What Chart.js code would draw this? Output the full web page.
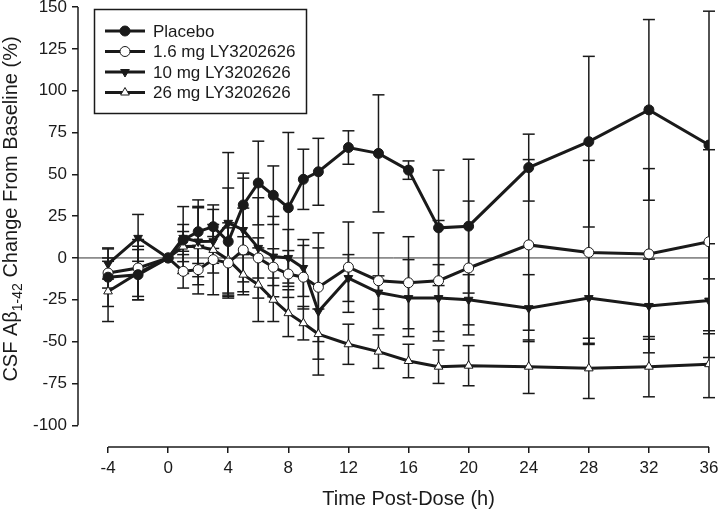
<!DOCTYPE html>
<html>
<head>
<meta charset="utf-8">
<script src="https://cdn.jsdelivr.net/npm/chart.js@4.4.1/dist/chart.umd.min.js"></script>
<style>
  html, body { margin: 0; padding: 0; background: #fff; }
  #wrap { width: 718px; height: 513px; position: relative; }
</style>
</head>
<body>
<div id="wrap"><canvas id="chart"></canvas></div>
<script>
// hours relative to dose
const times = [-4, -2, 0, 1, 2, 3, 4, 5, 6, 7, 8, 9, 10, 12, 14, 16, 18, 20, 24, 28, 32, 36];
const xTicks = [-4, 0, 4, 8, 12, 16, 20, 24, 28, 32, 36];
const yTicks = [-100, -75, -50, -25, 0, 25, 50, 75, 100, 125, 150];

// mean % change and SD per group
const placebo   = [-11.5, -10, 0, 10.7, 15.7, 18.7, 9.8, 31.7, 44.8, 37.5, 30, 47, 51.5, 66, 62.5, 52.5, 18, 19, 54, 69.5, 88.5, 67.5];
const placeboSd = [17.5, 15, 0, 20, 19, 13, 32, 19, 25, 17.5, 45, 18, 20, 10, 35, 5.5, 34.5, 40, 20, 51, 54, 80];
const dose16    = [-9, -6, 0, -8, -7, -1, -3, 4.8, 0, -5.5, -9.6, -11.5, -17.5, -5.5, -13.6, -14.8, -13.6, -6, 7.8, 3.3, 2.4, 9.7];
const dose16Sd  = [9, 17, 0, 10, 14.5, 21, 21, 25, 12, 11, 14, 19, 32.5, 27, 28.6, 27.5, 36, 40, 51, 55, 51, 55];
const dose10    = [-3.6, 12, 0, 12, 9.8, 10, 21, 16.7, 6, 0.8, 0, -6, -32, -12, -20.7, -24, -24, -25, -30, -24, -28.7, -25.5];
const dose10Sd  = [9, 14, 0, 8, 21, 19, 42, 31, 30, 24, 17, 17, 38, 14, 10, 23, 20, 15, 20, 27, 28, 34];
const dose26    = [-20, -9, 0, 6.8, 7, 4.8, -1, -10, -16, -25, -33, -39, -45.5, -51.6, -56, -61.6, -65, -64.4, -65, -66, -65, -63.5];
const dose26Sd  = [18, 16, 0, 9, 23, 8, 22, 12, 22, 13, 14, 10, 15, 12, 10, 10, 10, 12, 16, 18, 18, 20];

const INK = '#1a1a1a';
const FONT = '"Liberation Sans", Arial, Helvetica, sans-serif';

const series = [
  { label: 'Placebo',          data: placebo, sd: placeboSd, pointStyle: 'circle',   fill: INK,    rotation: 0 },
  { label: '1.6 mg LY3202626', data: dose16,  sd: dose16Sd,  pointStyle: 'circle',   fill: '#fff', rotation: 0 },
  { label: '10 mg LY3202626',  data: dose10,  sd: dose10Sd,  pointStyle: 'triangle', fill: INK,    rotation: 180 },
  { label: '26 mg LY3202626',  data: dose26,  sd: dose26Sd,  pointStyle: 'triangle', fill: '#fff', rotation: 0 },
];

function seg(ctx, x1, y1, x2, y2) {
  ctx.beginPath();
  ctx.moveTo(x1, y1);
  ctx.lineTo(x2, y2);
  ctx.stroke();
}

// ─── Extras: zero line, error bars, offset axes, legend, titles ─────────────

const extras = {
  id: 'extras',
  beforeDatasetsDraw(chart) {
    const { ctx, chartArea, scales: { x, y } } = chart;
    ctx.save();
    ctx.strokeStyle = '#333';
    ctx.lineWidth = 1;
    const y0 = y.getPixelForValue(0);
    seg(ctx, chartArea.left, y0, chartArea.right, y0);

    ctx.strokeStyle = INK;
    ctx.lineWidth = 1.5;
    series.forEach(s => s.sd.forEach((sd, i) => {
      if (!sd) return;
      const px = x.getPixelForValue(times[i]);
      const top = y.getPixelForValue(s.data[i] + sd);
      const bot = y.getPixelForValue(s.data[i] - sd);
      seg(ctx, px, top, px, bot);
      seg(ctx, px - 6, top, px + 6, top);
      seg(ctx, px - 6, bot, px + 6, bot);
    }));
    ctx.restore();
  },
  afterDraw(chart) {
    const { ctx, chartArea, scales: { x, y } } = chart;
    ctx.save();
    ctx.strokeStyle = INK;
    ctx.lineWidth = 1.5;
    // y axis stops at -100, x axis starts at -4
    seg(ctx, chartArea.left, y.getPixelForValue(150), chartArea.left, y.getPixelForValue(-100));
    seg(ctx, x.getPixelForValue(-4), chartArea.bottom, x.getPixelForValue(36), chartArea.bottom);

    // legend
    ctx.lineWidth = 1.5;
    ctx.strokeRect(94.5, 9.5, 212, 104);
    ctx.font = `17px ${FONT}`;
    ctx.textBaseline = 'middle';
    ctx.textAlign = 'left';
    series.forEach((s, i) => {
      const ly = 31 + i * 20.5;
      ctx.strokeStyle = INK;
      ctx.lineWidth = 3;
      seg(ctx, 105, ly, 145, ly);
      ctx.fillStyle = s.fill;
      ctx.lineWidth = 1;
      Chart.helpers.drawPoint(ctx, { pointStyle: s.pointStyle, rotation: s.rotation, radius: 5, borderWidth: 1 }, 125, ly);
      ctx.fillStyle = INK;
      ctx.fillText(s.label, 153, ly + 1);
    });

    // x title, centred on the drawn axis
    ctx.font = `20px ${FONT}`;
    ctx.textAlign = 'center';
    ctx.textBaseline = 'middle';
    ctx.fillText('Time Post-Dose (h)', (x.getPixelForValue(-4) + x.getPixelForValue(36)) / 2, 499);

    // y title with subscript
    const parts = [['CSF A\u03B2', 20, 0], ['1-42', 14, 5], [' Change From Baseline (%)', 20, 0]];
    let total = 0;
    parts.forEach(p => { ctx.font = `${p[1]}px ${FONT}`; total += ctx.measureText(p[0]).width; });
    ctx.translate(17, 209);
    ctx.rotate(-Math.PI / 2);
    ctx.textAlign = 'left';
    ctx.textBaseline = 'alphabetic';
    let cx = -total / 2;
    parts.forEach(p => {
      ctx.font = `${p[1]}px ${FONT}`;
      ctx.fillText(p[0], cx, p[2]);
      cx += ctx.measureText(p[0]).width;
    });
    ctx.restore();
  },
};

new Chart(document.getElementById('chart'), {
  type: 'line',
  data: {
    datasets: series.map(s => ({
      label: s.label,
      data: times.map((t, i) => ({ x: t, y: s.data[i] })),
      borderColor: INK,
      borderWidth: 3,
      tension: 0,
      pointStyle: s.pointStyle,
      pointRotation: s.rotation,
      pointRadius: 5,
      pointHoverRadius: 5,
      pointBackgroundColor: s.fill,
      pointBorderColor: INK,
      pointBorderWidth: 1,
    })),
  },
  options: {
    responsive: true,
    maintainAspectRatio: false,
    animation: false,
    layout: { padding: { top: 7, right: 9, left: 0, bottom: 0 } },
    plugins: { legend: { display: false }, tooltip: { enabled: false } },
    scales: {
      x: {
        type: 'linear',
        min: -6,
        max: 36,
        afterBuildTicks: sc => { sc.ticks = xTicks.map(v => ({ value: v })); },
        afterFit: sc => { sc.height = 66; sc.paddingLeft = 0; sc.paddingRight = 0; },
        border: { display: false },
        grid: { drawOnChartArea: false, drawTicks: true, tickLength: 6, color: INK, lineWidth: 1.5 },
        ticks: { color: INK, font: { family: FONT, size: 17 }, padding: 5, maxRotation: 0, autoSkip: false },
      },
      y: {
        min: -113,
        max: 150,
        afterBuildTicks: sc => { sc.ticks = yTicks.map(v => ({ value: v })); },
        afterFit: sc => { sc.width = 78; sc.paddingTop = 0; sc.paddingBottom = 0; },
        border: { display: false },
        grid: { drawOnChartArea: false, drawTicks: true, tickLength: 6, color: INK, lineWidth: 1.5 },
        ticks: { color: INK, font: { family: FONT, size: 17 }, padding: 5, autoSkip: false },
      },
    },
  },
  plugins: [extras],
});
</script>
</body>
</html>
